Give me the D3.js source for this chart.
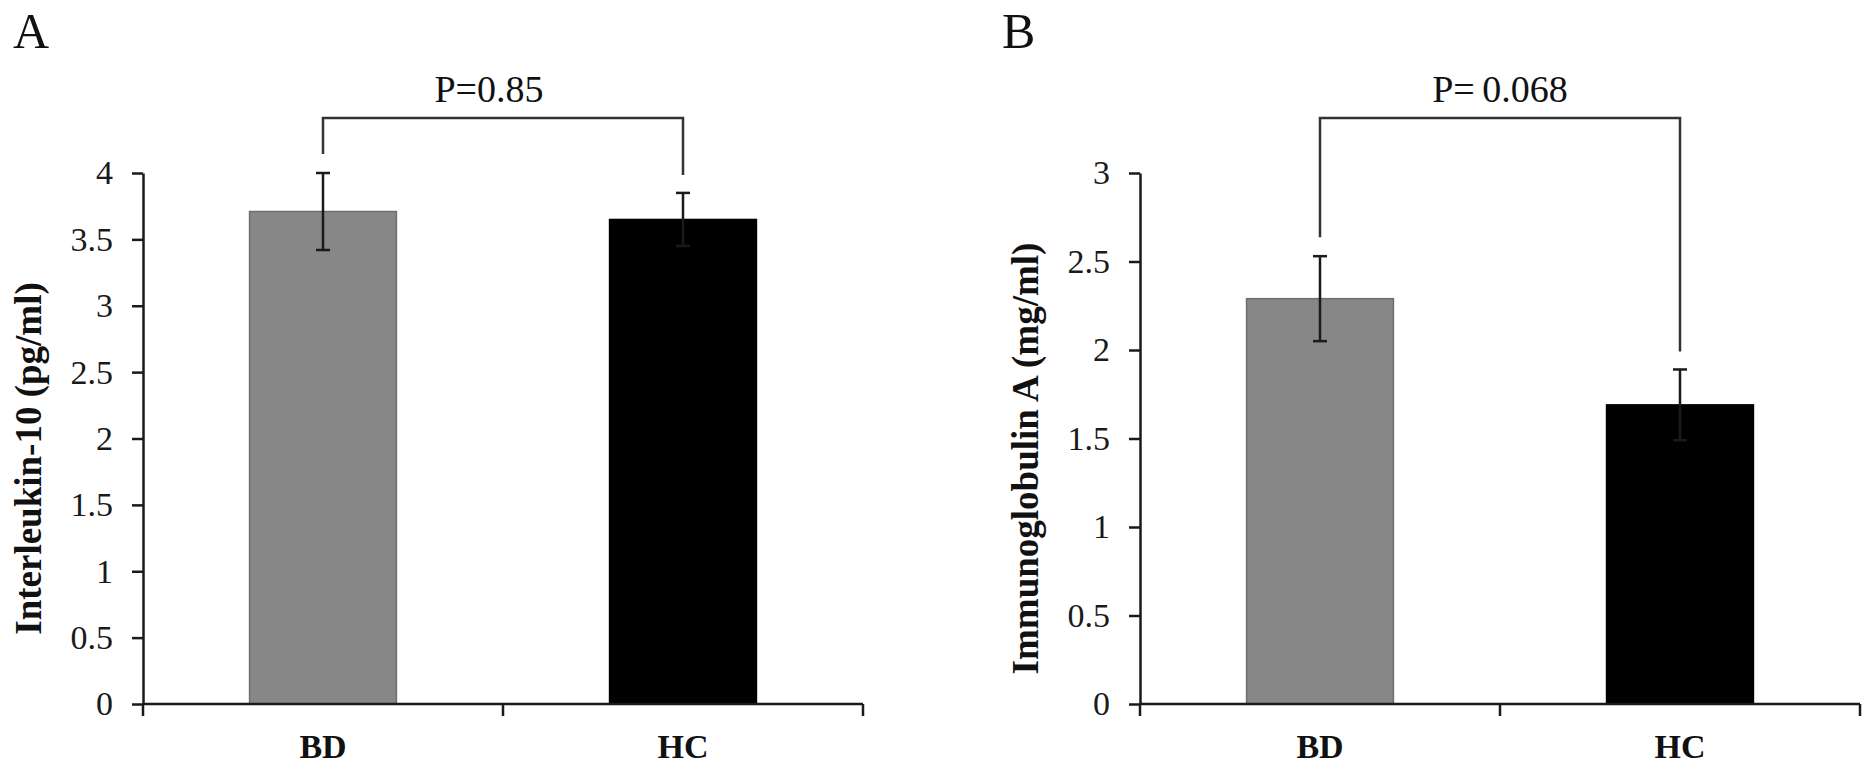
<!DOCTYPE html>
<html>
<head>
<meta charset="utf-8">
<script src="https://cdn.jsdelivr.net/npm/d3@7"></script>
<style>
  body { margin: 0; background: #fff; }
  svg { display: block; font-family: "Liberation Serif", "Times New Roman", serif; }
</style>
</head>
<body>
<svg id="chart" width="1876" height="771"></svg>
<script>
// data
var categories = ["BD", "HC"];
var barColors = ["#878787", "#000000"];

var il10Means = [3.71, 3.65];
var il10Errors = [0.29, 0.2];
var il10Ticks = [0, 0.5, 1, 1.5, 2, 2.5, 3, 3.5, 4];

var igaMeans = [2.29, 1.69];
var igaErrors = [0.24, 0.2];
var igaTicks = [0, 0.5, 1, 1.5, 2, 2.5, 3];

var svg = d3.select("#chart");
var plotTop = 173, plotBottom = 704, plotWidth = 720;

var drawPanel = function(opts){
    var g = svg.append("g").attr("transform", "translate(" + opts.left + ",0)");

    var x = d3.scaleBand().domain(categories).range([0, plotWidth])
        .paddingInner(0.592).paddingOuter(0.296);
    var y = d3.scaleLinear().domain([0, d3.max(opts.ticks)]).range([plotBottom, plotTop]);

    var data = categories.map(function(c, i){
        return {cat: c, mean: opts.means[i], err: opts.errors[i], color: barColors[i]};
    });

    // bars
    g.selectAll("rect.bar").data(data).enter().append("rect")
        .attr("class", "bar")
        .attr("x", function(d){ return x(d.cat); })
        .attr("width", x.bandwidth())
        .attr("y", function(d){ return y(d.mean); })
        .attr("height", function(d){ return y(0) - y(d.mean); })
        .attr("fill", function(d){ return d.color; })
        .attr("stroke", function(d, i){ return i == 0 ? "#6f6f6f" : "#000"; })
        .attr("stroke-width", 1.5);

    // error bars
    var cx = function(d){ return x(d.cat) + x.bandwidth() / 2; };
    var eb = g.selectAll("g.err").data(data).enter().append("g")
        .attr("stroke", "#1a1a1a").attr("stroke-width", 2.5);
    eb.append("line")
        .attr("x1", cx).attr("x2", cx)
        .attr("y1", function(d){ return y(d.mean + d.err); })
        .attr("y2", function(d){ return y(d.mean - d.err); });
    eb.append("line")
        .attr("x1", function(d){ return cx(d) - 7; }).attr("x2", function(d){ return cx(d) + 7; })
        .attr("y1", function(d){ return y(d.mean + d.err); })
        .attr("y2", function(d){ return y(d.mean + d.err); });
    eb.append("line")
        .attr("x1", function(d){ return cx(d) - 7; }).attr("x2", function(d){ return cx(d) + 7; })
        .attr("y1", function(d){ return y(d.mean - d.err); })
        .attr("y2", function(d){ return y(d.mean - d.err); });

    // y axis
    var yAxis = g.append("g")
        .call(d3.axisLeft(y).tickValues(opts.ticks).tickSize(11).tickSizeOuter(0).tickPadding(19)
            .tickFormat(function(d){ return String(d); }));
    yAxis.selectAll("path, line").attr("stroke", "#1a1a1a").attr("stroke-width", 2.5);
    yAxis.selectAll("text").attr("font-family", "Liberation Serif").attr("font-size", 34)
        .attr("fill", "#1a1a1a");

    // x axis with ticks at category boundaries
    var xa = g.append("g").attr("stroke", "#1a1a1a").attr("stroke-width", 2.5);
    xa.append("line").attr("x1", 0).attr("x2", plotWidth).attr("y1", y(0)).attr("y2", y(0));
    var bounds = d3.range(categories.length + 1).map(function(i){ return i * x.step(); });
    xa.selectAll("line.tick").data(bounds).enter().append("line")
        .attr("x1", function(d){ return d; }).attr("x2", function(d){ return d; })
        .attr("y1", y(0)).attr("y2", y(0) + 12);

    g.selectAll("text.cat").data(categories).enter().append("text")
        .attr("x", function(d){ return x(d) + x.bandwidth() / 2; })
        .attr("y", 758)
        .attr("text-anchor", "middle")
        .attr("font-weight", "bold").attr("font-size", 34).attr("fill", "#111")
        .text(function(d){ return d; });

    // y title
    g.append("text")
        .attr("transform", "translate(-102," + ((plotTop + plotBottom) / 2 + 20) + ") rotate(-90)")
        .attr("text-anchor", "middle")
        .attr("font-weight", "bold").attr("font-size", 37).attr("fill", "#111")
        .text(opts.title);

    // significance bracket
    var bracketY = plotTop - 55;
    var x0 = cx(data[0]), x1 = cx(data[1]);
    var leg0 = y(data[0].mean + data[0].err) - 19;
    var leg1 = y(data[1].mean + data[1].err) - 18;
    g.append("path")
        .attr("d", "M" + x0 + "," + leg0 + "V" + bracketY + "H" + x1 + "V" + leg1)
        .attr("fill", "none").attr("stroke", "#333").attr("stroke-width", 2.5);
    g.append("text")
        .attr("x", (x0 + x1) / 2 + opts.pDx).attr("y", bracketY - 16)
        .attr("text-anchor", "middle")
        .attr("font-size", 38).attr("fill", "#111")
        .text(opts.pText);

    // panel letter
    g.append("text")
        .attr("x", opts.letterDx).attr("y", 48)
        .attr("font-size", 50).attr("fill", "#111")
        .text(opts.letter);
};

drawPanel({left: 143, means: il10Means, errors: il10Errors, ticks: il10Ticks,
    title: "Interleukin-10 (pg/ml)", letter: "A", letterDx: -130, pText: "P=0.85", pDx: -14});
drawPanel({left: 1140, means: igaMeans, errors: igaErrors, ticks: igaTicks,
    title: "Immunoglobulin A (mg/ml)", letter: "B", letterDx: -138, pText: "P=\u20090.068", pDx: 0});
</script>
</body>
</html>
